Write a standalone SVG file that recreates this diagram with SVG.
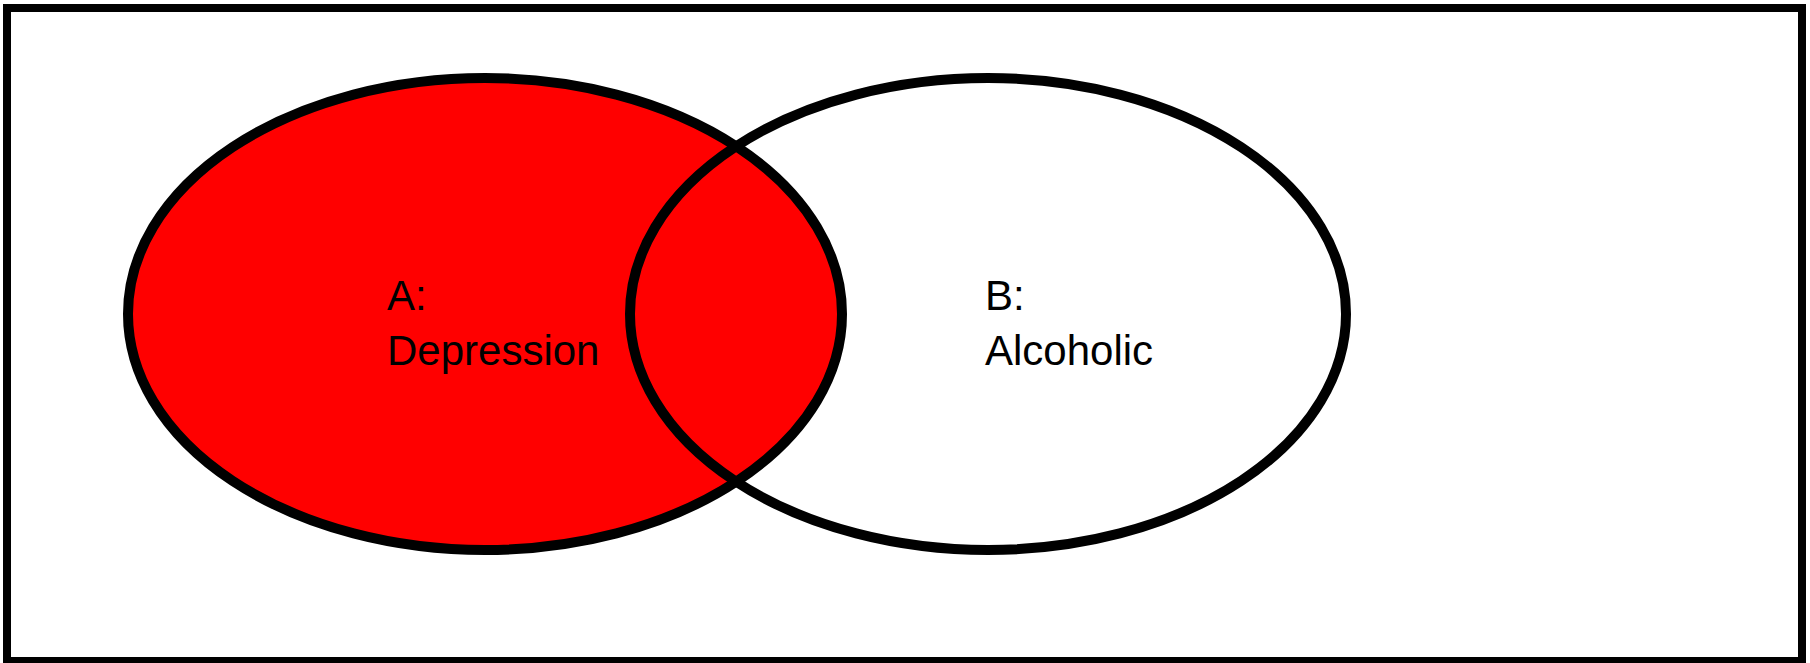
<svg xmlns="http://www.w3.org/2000/svg" width="1810" height="663" viewBox="0 0 1810 663">
<style>
.set{stroke:#000;stroke-width:10}
.lbl{font-family:"Liberation Sans",Arial,sans-serif;font-size:42px;fill:#000}
</style>
<rect x="0" y="0" width="1810" height="663" fill="#fff"/>
<g id="frame"><rect x="7" y="8" width="1795" height="653" fill="none" stroke="#000" stroke-width="8"/></g>
<g id="setA">
<ellipse class="set" cx="485" cy="314" rx="357" ry="236" fill="#ff0000"/>
</g>
<g id="setB">
<ellipse class="set" cx="988" cy="314" rx="358" ry="236" fill="none"/>
</g>
<g id="labelA"><text class="lbl" x="387" y="310">A:</text><text class="lbl" x="387" y="365">Depression</text></g>
<g id="labelB"><text class="lbl" x="985" y="310">B:</text><text class="lbl" x="985" y="365">Alcoholic</text></g>
<g id="connectors"/>
</svg>
